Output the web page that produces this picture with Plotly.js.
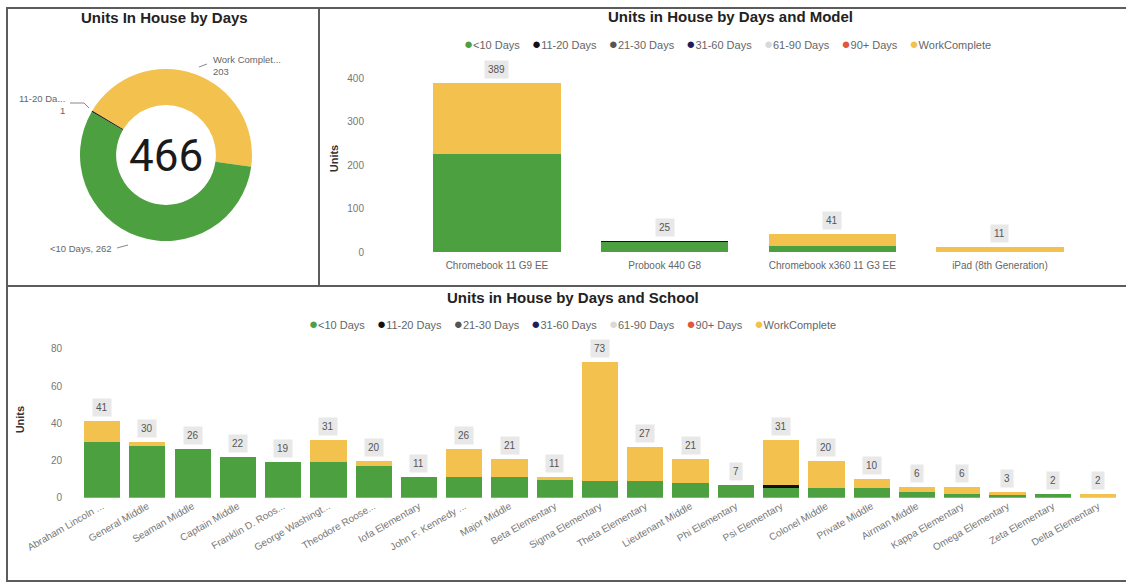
<!DOCTYPE html>
<html>
<head>
<meta charset="utf-8">
<script src="https://cdn.plot.ly/plotly-3.0.1.min.js"></script>
<style>html,body{margin:0;padding:0;background:#fff;}#chart{width:1126px;height:583px;}</style>
</head>
<body>
<div id="chart"></div>
<script>
// ---------- DATA ----------
const seriesNames = ["<10 Days", "11-20 Days", "21-30 Days", "31-60 Days", "61-90 Days", "90+ Days", "WorkComplete"];
const seriesColors = ["#4CA03F", "#111111", "#555555", "#1B1F5E", "#D9D9D9", "#E0573C", "#F2C14E"];

const donutLabels = ["Work Complete", "<10 Days", "11-20 Days"];
const donutShortLabels = ["Work Complet...", "<10 Days", "11-20 Da..."];
const donutValues = [203, 262, 1];
const donutColors = ["#F2C14E", "#4CA03F", "#111111"];

const models = ["Chromebook 11 G9 EE", "Probook 440 G8", "Chromebook x360 11 G3 EE", "iPad (8th Generation)"];
const modelLt10 = [225, 24, 13, 0];
const model11_20 = [0, 1, 0, 0];
const model21_30 = [0, 0, 0, 0];
const model31_60 = [0, 0, 0, 0];
const model61_90 = [0, 0, 0, 0];
const model90p = [0, 0, 0, 0];
const modelWork = [164, 0, 28, 11];

const schools = ["Abraham Lincoln ...", "General Middle", "Seaman Middle", "Captain Middle", "Franklin D. Roos...",
  "George Washingt...", "Theodore Roose...", "Iofa Elementary", "John F. Kennedy ...", "Major Middle",
  "Beta Elementary", "Sigma Elementary", "Theta Elementary", "Lieutenant Middle", "Phi Elementary",
  "Psi Elementary", "Colonel Middle", "Private Middle", "Airman Middle", "Kappa Elementary",
  "Omega Elementary", "Zeta Elementary", "Delta Elementary"];
const schoolLt10 =  [30, 28, 26, 22, 19, 19, 17, 11, 11, 11, 10, 9, 9, 8, 7, 6, 5, 5, 3, 2, 2, 2, 0];
const school11_20 = [0, 0, 0, 0, 0, 0, 0, 0, 0, 0, 0, 0, 0, 0, 0, 1, 0, 0, 0, 0, 0, 0, 0];
const school21_30 = [0, 0, 0, 0, 0, 0, 0, 0, 0, 0, 0, 0, 0, 0, 0, 0, 0, 0, 0, 0, 0, 0, 0];
const school31_60 = [0, 0, 0, 0, 0, 0, 0, 0, 0, 0, 0, 0, 0, 0, 0, 0, 0, 0, 0, 0, 0, 0, 0];
const school61_90 = [0, 0, 0, 0, 0, 0, 0, 0, 0, 0, 0, 0, 0, 0, 0, 0, 0, 0, 0, 0, 0, 0, 0];
const school90p =   [0, 0, 0, 0, 0, 0, 0, 0, 0, 0, 0, 0, 0, 0, 0, 0, 0, 0, 0, 0, 0, 0, 0];
const schoolWork =  [11, 2, 0, 0, 0, 12, 3, 0, 15, 10, 1, 64, 18, 13, 0, 24, 15, 5, 3, 4, 1, 0, 2];

const modelTicks = [0, 100, 200, 300, 400];
const schoolTicks = [0, 20, 40, 60, 80];

// ---------- HELPERS ----------
const W = 1126, H = 583;
const px = x => x / W;
const py = y => 1 - y / H;
const esc = s => s.replace(/&/g, "&amp;").replace(/</g, "&lt;").replace(/>/g, "&gt;");
const FONT = "Liberation Sans, Arial, sans-serif";

const modelSeries = [modelLt10, model11_20, model21_30, model31_60, model61_90, model90p, modelWork];
const schoolSeries = [schoolLt10, school11_20, school21_30, school31_60, school61_90, school90p, schoolWork];

const traces = [];
traces.push({
  type: "pie", labels: donutLabels, values: donutValues, sort: false, direction: "clockwise",
  rotation: -59, hole: 0.58, textinfo: "none", showlegend: false,
  marker: {colors: donutColors, line: {width: 0}},
  domain: {x: [px(80), px(252)], y: [py(241), py(69)]}
});
seriesNames.forEach((name, k) => {
  traces.push({type: "bar", name: name, x: models, y: modelSeries[k], xaxis: "x", yaxis: "y",
    marker: {color: seriesColors[k]}, width: 0.76, showlegend: false});
});
seriesNames.forEach((name, k) => {
  traces.push({type: "bar", name: name, x: schools, y: schoolSeries[k], xaxis: "x2", yaxis: "y2",
    marker: {color: seriesColors[k]}, width: 0.8, showlegend: false});
});

const totals = (cats, series) => cats.map((_, i) => series.reduce((a, s) => a + s[i], 0));
const modelTotals = totals(models, modelSeries);
const schoolTotals = totals(schools, schoolSeries);

const annotations = [];
function title(text, x, y) {
  annotations.push({text: text, x: px(x), y: py(y), xref: "paper", yref: "paper", showarrow: false,
    xanchor: "center", yanchor: "middle", font: {family: FONT, size: 15, color: "#222", weight: "bold"}});
}
title("Units In House by Days", 164, 18);
title("Units in House by Days and Model", 730, 17);
title("Units in House by Days and School", 573, 297);

function legend(x, y) {
  const txt = seriesNames.map((n, k) =>
    `<span style="color:${seriesColors[k]};font-size:15px">●</span>${esc(n)}`).join("\u00A0\u00A0\u00A0\u00A0");
  annotations.push({text: txt, x: px(x), y: py(y), xref: "paper", yref: "paper", showarrow: false,
    xanchor: "center", yanchor: "middle", font: {family: FONT, size: 11, color: "#666"}});
}
legend(727, 44);
legend(572, 323);

models.forEach((m, i) => annotations.push({text: String(modelTotals[i]), x: m, y: modelTotals[i],
  xref: "x", yref: "y", xanchor: "center", yanchor: "bottom", yshift: 4, showarrow: false,
  bgcolor: "#e8e8e8", borderpad: 3, font: {family: FONT, size: 10, color: "#555"}}));
schools.forEach((s, i) => annotations.push({text: String(schoolTotals[i]), x: s, y: schoolTotals[i],
  xref: "x2", yref: "y2", xanchor: "center", yanchor: "bottom", yshift: 4, showarrow: false,
  bgcolor: "#e8e8e8", borderpad: 3, font: {family: FONT, size: 10, color: "#555"}}));

// donut center total and slice labels
const donutTotal = donutValues.reduce((a, b) => a + b, 0);
annotations.push({text: String(donutTotal), x: px(166), y: py(156), xref: "paper", yref: "paper",
  xanchor: "center", yanchor: "middle",
  showarrow: false, font: {family: "Roboto, sans-serif", size: 44, color: "#1a1a1a"}});
const lblFont = {family: FONT, size: 9.5, color: "#666"};
annotations.push({text: esc(donutShortLabels[0]) + "<br>" + donutValues[0], x: px(211), y: py(66),
  xref: "paper", yref: "paper", xanchor: "left", yanchor: "middle", align: "left", showarrow: false, font: lblFont});
annotations.push({text: esc(donutShortLabels[2]) + "<br>" + donutValues[2], x: px(67), y: py(104),
  xref: "paper", yref: "paper", xanchor: "right", yanchor: "middle", align: "right", showarrow: false, font: lblFont});
annotations.push({text: esc(donutShortLabels[1]) + ", " + donutValues[1], x: px(114), y: py(248),
  xref: "paper", yref: "paper", xanchor: "right", yanchor: "middle", showarrow: false, font: lblFont});

const lineGray = {color: "#888", width: 1};
const border = {color: "#5c5c5c", width: 2};
const shapes = [
  {type: "path", xref: "paper", yref: "paper", line: lineGray,
    path: `M ${px(199)} ${py(67)} L ${px(207)} ${py(64)}`},
  {type: "path", xref: "paper", yref: "paper", line: lineGray,
    path: `M ${px(70)} ${py(103)} L ${px(84)} ${py(103)} L ${px(89)} ${py(108)}`},
  {type: "path", xref: "paper", yref: "paper", line: lineGray,
    path: `M ${px(117)} ${py(248)} L ${px(128)} ${py(245)}`},
  {type: "rect", xref: "paper", yref: "paper", x0: px(7), x1: px(319), y0: py(286), y1: py(8), line: border},
  {type: "rect", xref: "paper", yref: "paper", x0: px(319), x1: px(1132), y0: py(286), y1: py(8), line: border},
  {type: "rect", xref: "paper", yref: "paper", x0: px(7), x1: px(1132), y0: py(581), y1: py(286), line: border}
];

const layout = {
  width: W, height: H, margin: {l: 0, r: 0, t: 0, b: 0},
  paper_bgcolor: "#fff", plot_bgcolor: "#fff", barmode: "stack", showlegend: false,
  font: {family: FONT},
  xaxis: {domain: [px(365), px(1090)], range: [-0.787, 3.537], anchor: "y", type: "category",
    showgrid: false, zeroline: false, showline: false, ticks: "", ticklabelstandoff: 6,
    tickfont: {size: 10, color: "#666"}},
  yaxis: {domain: [py(252), py(65)], range: [0, 430], anchor: "x", tickvals: modelTicks,
    showgrid: false, zeroline: false, showline: false, ticks: "", tickfont: {size: 10, color: "#777"},
    title: {text: "Units", standoff: 6, font: {size: 11, color: "#333", weight: "bold"}}},
  xaxis2: {domain: [px(63), px(1122)], range: [-0.863, 22.53], anchor: "y2", type: "category",
    tickangle: -30, showgrid: false, zeroline: false, showline: false, ticks: "",
    tickfont: {size: 10, color: "#777"}},
  yaxis2: {domain: [py(497.7), py(341.5)], range: [0, 84], anchor: "x2", tickvals: schoolTicks,
    showgrid: false, zeroline: false, showline: false, ticks: "", tickfont: {size: 10, color: "#777"},
    title: {text: "Units", standoff: 24, font: {size: 11, color: "#333", weight: "bold"}}},
  annotations: annotations,
  shapes: shapes
};

Plotly.newPlot("chart", traces, layout, {displayModeBar: false, responsive: false});
</script>
</body>
</html>
